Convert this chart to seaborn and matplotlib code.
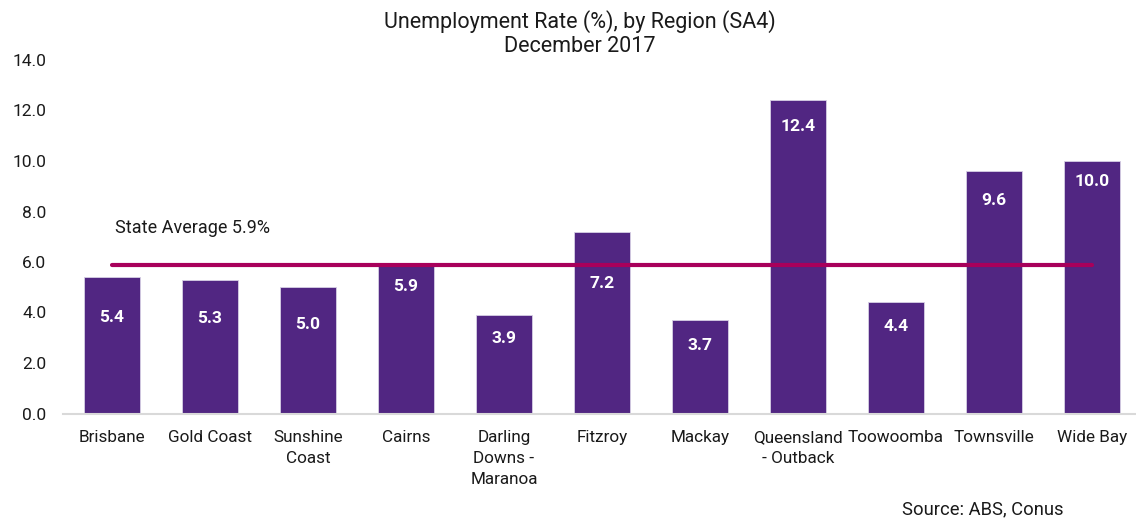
import matplotlib
matplotlib.use("Agg")
import matplotlib.pyplot as plt
import seaborn as sns
import pandas as pd

# 지역별 실업률 (2017년 12월)
regions = ["Brisbane", "Gold Coast", "Sunshine\nCoast", "Cairns", "Darling\nDowns -\nMaranoa",
           "Fitzroy", "Mackay", "Queensland\n- Outback", "Toowoomba", "Townsville", "Wide Bay"]
rates = [5.4, 5.3, 5.0, 5.9, 3.9, 7.2, 3.7, 12.4, 4.4, 9.6, 10.0]
state_avg = 5.9
yticks = [0, 2, 4, 6, 8, 10, 12, 14]

# 막대 위 라벨을 얼마나 내릴지 (pt) - 원본에서 손으로 옮긴 듯
label_drop = [29, 28, 27, 16, 17, 37, 18, 19, 17, 21, 15]

df = pd.DataFrame({"region": regions, "rate": rates})

sns.set_style("white")
plt.rcParams["font.family"] = ["Roboto", "DejaVu Sans"]

fig = plt.figure(figsize=(11.36, 5.18), dpi=100)
ax = fig.add_axes([63 / 1136, 1 - 413.5 / 518, 1078 / 1136, 353.5 / 518])

purple = "#512682"
crimson = "#A8005B"

sns.barplot(data=df, x="region", y="rate", color=purple, saturation=1, width=0.57,
            edgecolor="#d6cfe4", linewidth=0.6, ax=ax)

# 주 평균선
ax.plot([0, len(regions) - 1], [state_avg, state_avg], color=crimson, lw=3,
        solid_capstyle="round", zorder=5)
ax.text(0.03, state_avg + 1.45, "State Average %.1f%%" % state_avg, fontsize=13,
        color="#1a1a1a", ha="left", va="center")

for i, v in enumerate(rates):
    ax.annotate("%.1f" % v, (i, v), xytext=(0, -label_drop[i]), textcoords="offset points",
                ha="center", va="center", color="white", fontsize=12.5, fontweight="bold",
                zorder=6)

ax.set_ylim(0, 14)
ax.set_xlim(-0.5, len(regions) - 0.5)
ax.set_yticks(yticks)
ax.set_yticklabels(["%.1f" % t for t in yticks])
ax.set_xlabel("")
ax.set_ylabel("")
ax.tick_params(axis="y", length=0, pad=12, labelsize=12.5, labelcolor="#1a1a1a")
ax.tick_params(axis="x", length=0, pad=12, labelsize=12.3, labelcolor="#1a1a1a")
for lbl in ax.get_xticklabels():
    lbl.set_linespacing(1.5)

for s in ["top", "right", "left"]:
    ax.spines[s].set_visible(False)
ax.spines["bottom"].set_color("#d9d9d9")
ax.spines["bottom"].set_linewidth(1.5)

fig.text(580 / 1136, 1 - 22 / 518, "Unemployment Rate (%), by Region (SA4)", ha="center",
         va="center", fontsize=15.5, color="#1a1a1a")
fig.text(580 / 1136, 1 - 47 / 518, "December 2017", ha="center", va="center",
         fontsize=15.5, color="#1a1a1a")
fig.text(1063 / 1136, 1 - 509 / 518, "Source: ABS, Conus", ha="right", va="center",
         fontsize=13.2, color="#1a1a1a")

fig.savefig("out.png", dpi=100)
